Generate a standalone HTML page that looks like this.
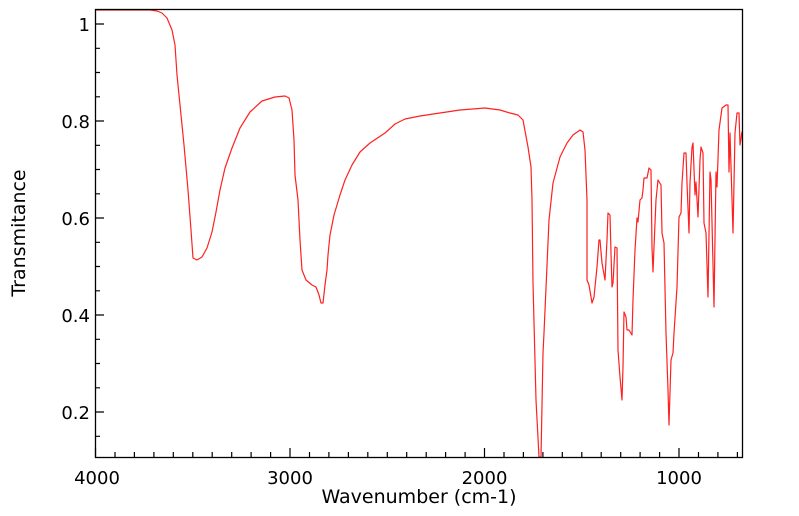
<!DOCTYPE html>
<html><head><meta charset="utf-8"><style>
html,body{margin:0;padding:0;background:#fff;}
svg{display:block;font-family:"DejaVu Sans","Liberation Sans",sans-serif;}
</style></head><body>
<svg width="799" height="516" viewBox="0 0 799 516" xmlns="http://www.w3.org/2000/svg">
<defs><clipPath id="c"><rect x="95.5" y="9.5" width="647" height="448"/></clipPath></defs>
<g clip-path="url(#c)">
<polyline fill="none" stroke="#ff2020" stroke-width="1.2" stroke-linejoin="round" points="
95,10 150,10 157,11 162,13 167,18 172,30 175,45 177,75 180,105 184,145 188,190 191,230 193,258 197,260 202,257 207,248 212,232 216,212 220,190 225,168 232,148 240,128 250,112 262,101 275,97 285,96 289,98 292,110 294,140 295,175 298,200 300,240 302,270 306,280 312,285 316,287 319,295 321,303 323,303 325,285 327,270 328,255 330,235 334,215 340,195 345,180 352,165 360,152 370,143 385,133 395,124 405,119 420,116 440,113 460,110 485,108 500,110 510,113 518,115 523,120 528,147 531,167 532,200 533,283 536,400 539,457 541,457 543,353 544,333 549,220 553,183 560,157 567,143 573,135 580,130 583,132 585,150 587,200 587,280 589,285 592,303 594,297 597,267 599,240 600,240 602,263 605,280 607,240 608,213 610,215 611,253 612,287 613,283 615,247 617,248 618,350 620,377 622,400 623,367 624,312 626,317 627,330 629,330 632,335 633,300 635,250 637,218 638,222 640,200 642,198 643,190 644,178 647,178 649,168 651,170 652,247 653,272 654,247 656,200 658,180 661,185 662,233 664,243 666,333 668,390 669,425 671,360 673,353 674,333 677,287 679,217 681,213 682,183 684,153 686,153 687,183 689,233 690,183 692,147 693,143 695,195 696,182 698,217 700,160 701,147 703,153 704,223 706,233 708,297 710,172 711,180 714,307 716,172 717,187 719,130 722,108 726,105 728,105 729,172 730,133 733,233 735,133 737,113 739,113 740,145 742,132 744,130"/>
</g>
<rect x="95.5" y="9.5" width="647" height="448" fill="none" stroke="#000" stroke-width="1.3"/>
<g stroke="#000" stroke-width="1.2">
<line x1="95.5" y1="457" x2="95.5" y2="448"/>
<line x1="290" y1="457" x2="290" y2="448"/>
<line x1="484.5" y1="457" x2="484.5" y2="448"/>
<line x1="679" y1="457" x2="679" y2="448"/>
<path d="M115,457v-5M134.4,457v-5M153.9,457v-5M173.3,457v-5M192.8,457v-5M212.2,457v-5M231.7,457v-5M251.1,457v-5M270.6,457v-5
M309.5,457v-5M328.9,457v-5M348.4,457v-5M367.8,457v-5M387.3,457v-5M406.7,457v-5M426.2,457v-5M445.6,457v-5M465.1,457v-5
M504,457v-5M523.4,457v-5M542.9,457v-5M562.3,457v-5M581.8,457v-5M601.2,457v-5M620.7,457v-5M640.1,457v-5M659.6,457v-5
M698.5,457v-5M717.9,457v-5M737.4,457v-5"/>
<path d="M95,24h9M95,121h9M95,218h9M95,315h9M95,412h9"/>
<path d="M95,48.3h5M95,72.5h5M95,96.8h5M95,145.3h5M95,169.5h5M95,193.8h5M95,242.3h5M95,266.5h5M95,290.8h5M95,339.3h5M95,363.5h5M95,387.8h5M95,436.3h5"/>
</g>
<g font-size="18" fill="#000">
<g text-anchor="end">
<text x="90" y="31">1</text>
<text x="90" y="128">0.8</text>
<text x="90" y="225">0.6</text>
<text x="90" y="322">0.4</text>
<text x="90" y="419">0.2</text>
</g>
<g text-anchor="middle">
<text x="97" y="484">4000</text>
<text x="290" y="484">3000</text>
<text x="484.5" y="484">2000</text>
<text x="679" y="484">1000</text>
<text x="419" y="503" font-size="19">Wavenumber (cm-1)</text>
<text transform="translate(25,233) rotate(-90)" font-size="19">Transmitance</text>
</g>
</g>
</svg>
</body></html>
